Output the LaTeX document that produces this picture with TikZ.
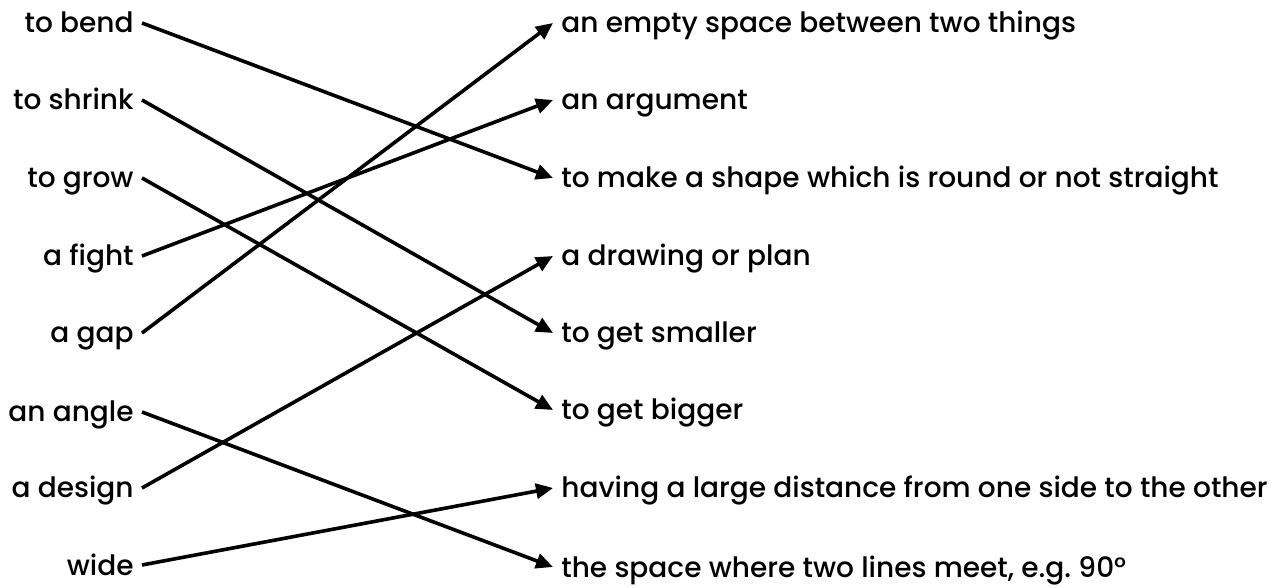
\documentclass[tikz,border=0pt]{standalone}
\usepackage{fontspec}
\setmainfont{Poppins}[UprightFont={* Medium}]
\usetikzlibrary{arrows.meta}

\begin{document}
\begin{tikzpicture}[x=0.5pt,y=-0.5pt,font=\fontsize{14pt}{16pt}\selectfont,
    word/.style={inner xsep=4pt,inner ysep=0pt,text height=10pt,text depth=0pt,anchor=base east},
    meaning/.style={word,anchor=base west},
    match/.style={line width=1.8pt,-{Triangle[length=8.5pt,width=7.5pt]}}]
  \useasboundingbox (0,0) rectangle (1276,588);

  % words on the left, right aligned
  \foreach \name/\y/\txt in {bend/33/to bend,shrink/110/to shrink,grow/188/to grow,
      fight/266/a fight,gap/343/a gap,angle/422/an angle,design/498/a design,wide/575/wide}
    {\node[word] (\name) at (142,\y) {\txt};}

  % meanings on the right
  \node[meaning] (space) at (553,33) {an empty space between two things};
  \node[meaning] (argument) at (553,110) {an argument};
  \node[meaning] (curve) at (553,188) {to make a shape which is round or not straight};
  \node[meaning] (plan) at (553,266) {a drawing or plan};
  \node[meaning] (smaller) at (553,343) {to get smaller};
  \node[meaning] (bigger) at (553,420) {to get bigger};
  \node[meaning] (distance) at (553,498) {having a large distance from one side to the other};
  \node[meaning] (lines) at (553,577) {the space where two lines meet, e.g.\ 90°};

  \foreach \a/\b in {bend/curve,shrink/smaller,grow/bigger,fight/argument,
      gap/space,angle/lines,design/plan,wide/distance}
    {\draw[match] (\a.east) -- (\b.west);}
\end{tikzpicture}
\end{document}
